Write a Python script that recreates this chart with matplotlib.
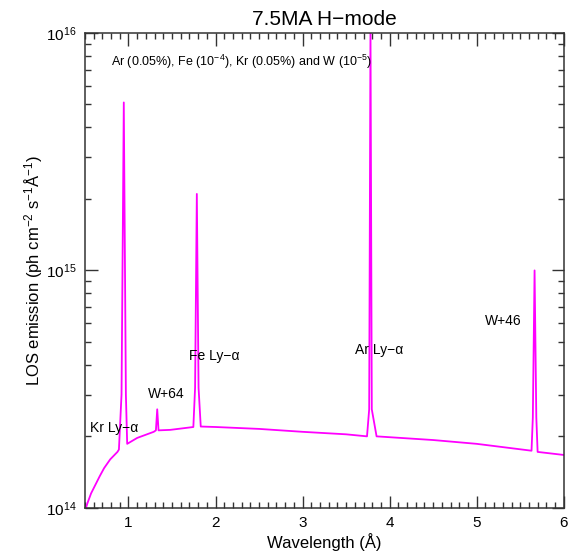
import matplotlib
matplotlib.use("Agg")
import matplotlib.pyplot as plt
from matplotlib.ticker import LogLocator, MultipleLocator, NullFormatter

plt.rcParams["font.family"] = ["Liberation Sans", "DejaVu Sans"]
plt.rcParams["mathtext.fontset"] = "custom"
plt.rcParams["mathtext.rm"] = "Liberation Sans"
plt.rcParams["mathtext.it"] = "Liberation Sans:italic"
plt.rcParams["mathtext.default"] = "regular"

# Line-of-sight spectrum: continuum plus impurity line peaks
wavelength = [0.50, 0.53, 0.57, 0.61, 0.67, 0.72, 0.79, 0.873, 0.89, 0.92, 0.946, 0.97, 0.985,
              1.10, 1.29, 1.315, 1.33, 1.345, 1.48, 1.745, 1.765, 1.785, 1.805,
              1.83, 2.00, 2.50, 3.00, 3.50, 3.74, 3.765, 3.78, 3.795, 3.85,
              4.50, 5.00, 5.63, 5.645, 5.665, 5.685, 5.70, 6.00]
emission = [0.97e14, 1.05e14, 1.15e14, 1.23e14, 1.36e14, 1.47e14, 1.6e14, 1.72e14, 1.76e14, 3.0e14, 5.1e15, 3.0e14, 1.86e14,
            1.97e14, 2.09e14, 2.12e14, 2.6e14, 2.12e14, 2.13e14, 2.19e14, 3.2e14, 2.1e15, 3.2e14,
            2.2e14, 2.19e14, 2.15e14, 2.09e14, 2.04e14, 2.0e14, 2.6e14, 1.05e16, 2.6e14, 2.0e14,
            1.93e14, 1.86e14, 1.74e14, 2.4e14, 1.0e15, 2.4e14, 1.72e14, 1.67e14]

line_labels = ["Kr Ly\u2212\u03b1", "W+64", "Fe Ly\u2212\u03b1", "Ar Ly\u2212\u03b1", "W+46"]
label_x = [0.56, 1.22, 1.70, 3.60, 5.10]
label_y = [2.17e14, 3.02e14, 4.35e14, 4.62e14, 6.15e14]

fig = plt.figure(figsize=(5.86, 5.55), dpi=100)
ax = fig.add_axes([0.145, 0.085, 0.817, 0.8555])

ax.plot(wavelength, emission, color="#ff00ff", linewidth=1.3)
ax.set_yscale("log")
ax.set_xlim(0.5, 6)
ax.set_ylim(1e14, 1e16)

ax.xaxis.set_major_locator(MultipleLocator(1))
ax.xaxis.set_minor_locator(MultipleLocator(0.1))
ax.yaxis.set_major_locator(LogLocator(base=10))
ax.yaxis.set_minor_locator(LogLocator(base=10, subs=range(2, 10)))
ax.yaxis.set_minor_formatter(NullFormatter())

ax.tick_params(which="both", direction="in", top=True, right=True,
               labelsize=11, width=1, color="#333333")
ax.tick_params(which="major", length=9, pad=6)
ax.tick_params(which="minor", length=4.5)
for spine in ax.spines.values():
    spine.set_linewidth(1.1)
    spine.set_color("#333333")

ax.set_xlabel("Wavelength (\u00c5)", fontsize=12, labelpad=2)
ax.set_ylabel("LOS emission (ph cm$^{-2}$ s$^{-1}$\u00c5$^{-1}$)", fontsize=12, labelpad=1)
ax.set_title("7.5MA H\u2212mode", fontsize=15, pad=6)

ax.text(0.055, 0.94, "Ar (0.05%), Fe (10$^{-4}$), Kr (0.05%) and W (10$^{-5}$)",
        transform=ax.transAxes, fontsize=9, ha="left", va="center")

for text, x, y in zip(line_labels, label_x, label_y):
    ax.text(x, y, text, fontsize=10, ha="left", va="center")

fig.savefig("out.png", dpi=100)
